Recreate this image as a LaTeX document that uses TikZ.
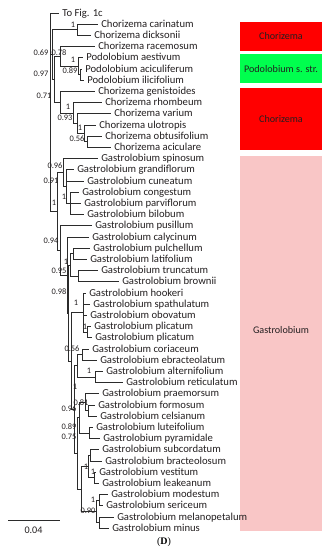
\documentclass[tikz,border=0pt]{standalone}
\usepackage{fontspec}
\setmainfont{Carlito}
\newfontfamily\panelfont{Liberation Serif}
\usetikzlibrary{positioning, calc}
\definecolor{chor}{HTML}{FF0000}
\definecolor{podo}{HTML}{00FF4E}
\definecolor{gastro}{HTML}{F9C6C6}
\definecolor{branch}{HTML}{2b2b2b}
\definecolor{ink}{HTML}{231f20}

\tikzset{
  tip/.style={anchor=mid west, inner xsep=2.25pt, inner ysep=0pt, text=ink, font=\fontsize{8}{9}\selectfont},
  supp/.style={inner sep=0pt, text=ink, font=\fontsize{6.3}{7}\selectfont},
  boxlab/.style={inner sep=0pt, text=ink, font=\fontsize{7.6}{9}\selectfont},
  edge/.style={draw=branch, line width=0.5pt}
}

\begin{document}
\begin{tikzpicture}[x=0.75pt, y=-0.75pt]
  \useasboundingbox (0,0) rectangle (335,550);

  % Clade bars on the right
  \fill[chor] (240,22) rectangle (322,51);
  \fill[podo] (240,54.3) rectangle (322,83.3);
  \fill[chor] (240,88.3) rectangle (322,150);
  \fill[gastro] (240,155.7) rectangle (322,530.7);
  \node[boxlab] (bchor1) at (281,36.5) {Chorizema};
  \node[boxlab] (bpodo) at (281,69) {Podolobium s. str.};
  \node[boxlab] (bchor2) at (281,119) {Chorizema};
  \node[boxlab] (bgastro) at (281,330) {Gastrolobium};

  % Tips (index / branch end / name)
  \foreach \i/\xe/\lab in {
    1/59/To Fig. 1c, 2/98/Chorizema carinatum, 3/91/Chorizema dicksonii,
    4/95/Chorizema racemosum, 5/83/Podolobium aestivum, 6/82/Podolobium aciculiferum,
    7/84/Podolobium ilicifolium, 8/95/Chorizema genistoides, 9/102/Chorizema rhombeum,
    10/111/Chorizema varium, 11/96/Chorizema ulotropis, 12/102/Chorizema obtusifolium,
    13/111/Chorizema aciculare, 14/98/Gastrolobium spinosum, 15/74/Gastrolobium grandiflorum,
    16/84/Gastrolobium cuneatum, 17/79/Gastrolobium congestum, 18/81/Gastrolobium parviflorum,
    19/84/Gastrolobium bilobum, 20/92/Gastrolobium pusillum, 21/89/Gastrolobium calycinum,
    22/90/Gastrolobium pulchellum, 23/87/Gastrolobium latifolium, 24/98/Gastrolobium truncatum,
    25/119/Gastrolobium brownii, 26/86/Gastrolobium hookeri, 27/90/Gastrolobium spathulatum,
    28/87/Gastrolobium obovatum, 29/91/Gastrolobium plicatum, 30/92/Gastrolobium plicatum,
    31/89/Gastrolobium coriaceum, 32/97/Gastrolobium ebracteolatum, 33/103/Gastrolobium alternifolium,
    34/123/Gastrolobium reticulatum, 35/99/Gastrolobium praemorsum, 36/95/Gastrolobium formosum,
    37/97/Gastrolobium celsianum, 38/93/Gastrolobium luteifolium, 39/100/Gastrolobium pyramidale,
    40/99/Gastrolobium subcordatum, 41/102/Gastrolobium bracteolosum, 42/96/Gastrolobium vestitum,
    43/99/Gastrolobium leakeanum, 44/108/Gastrolobium modestum, 45/103/Gastrolobium sericeum,
    46/114/Gastrolobium melanopetalum, 47/109/Gastrolobium minus}
    \node[tip] (t\i) at (\xe,{13+11.2*(\i-1)}) {\lab};

  % Internal nodes
  \coordinate (r) at (50,112);
  \coordinate (a) at (52,54.55);
  \coordinate (cd) at (77.7,29.8);
  \coordinate (x) at (54.5,79.3);
  \coordinate (rp) at (60,56.4);
  \coordinate (po) at (78,66.2);
  \coordinate (ai) at (80,74.6);
  \coordinate (c) at (60,102.25);
  \coordinate (e) at (73,113.1);
  \coordinate (vu) at (77,123.6);
  \coordinate (uo) at (84,133.4);
  \coordinate (oa) at (87,141.8);
  \coordinate (g) at (57,211.5);
  \coordinate (n1) at (63,172.6);
  \coordinate (n2) at (66,186.6);
  \coordinate (cpb) at (70,203.4);
  \coordinate (s2) at (60,250.4);
  \coordinate (s3) at (67,275);
  \coordinate (s4) at (68.5,313.05);
  \coordinate (pltb) at (70,265);
  \coordinate (pl) at (73,253.8);
  \coordinate (tb) at (78,276.2);
  \coordinate (j) at (71.5,361.1);
  \coordinate (hk) at (83,312.6);
  \coordinate (pp) at (87,332.2);
  \coordinate (j2) at (74,409.55);
  \coordinate (cear) at (77,365.8);
  \coordinate (ce) at (82,354.6);
  \coordinate (ar) at (95,377);
  \coordinate (k2) at (77.5,453.3);
  \coordinate (k1) at (79,417.6);
  \coordinate (pfc) at (85,402.2);
  \coordinate (fc) at (88,410.6);
  \coordinate (lp) at (89,433);
  \coordinate (b2) at (81,489);
  \coordinate (sbvl) at (88,466.6);
  \coordinate (sb) at (90,455.4);
  \coordinate (vl) at (94,477.8);
  \coordinate (m) at (96,511.4);
  \coordinate (ms) at (99,500.2);
  \coordinate (mm) at (99,522.6);

  % Branches
  \foreach \p/\c in {r/t1.mid west, r/a, r/g,
    a/cd, a/x, cd/t2.mid west, cd/t3.mid west,
    x/rp, x/c, rp/t4.mid west, rp/po, po/t5.mid west, po/ai,
    ai/t6.mid west, ai/t7.mid west,
    c/t8.mid west, c/e, e/t9.mid west, e/vu, vu/t10.mid west, vu/uo,
    uo/t11.mid west, uo/oa, oa/t12.mid west, oa/t13.mid west,
    g/n1, g/s2, n1/t14.mid west, n1/n2,
    n2/t15.mid west, n2/t16.mid west, n2/cpb,
    cpb/t17.mid west, cpb/t18.mid west, cpb/t19.mid west,
    s2/t20.mid west, s2/s3, s3/t21.mid west, s3/s4,
    s4/pltb, s4/j, pltb/pl, pltb/tb,
    pl/t22.mid west, pl/t23.mid west, tb/t24.mid west, tb/t25.mid west,
    j/hk, j/j2, hk/t26.mid west, hk/t27.mid west, hk/t28.mid west, hk/pp,
    pp/t29.mid west, pp/t30.mid west,
    j2/cear, j2/k2, cear/ce, cear/ar,
    ce/t31.mid west, ce/t32.mid west, ar/t33.mid west, ar/t34.mid west,
    k2/k1, k2/b2, k1/pfc, k1/lp,
    pfc/t35.mid west, pfc/fc, fc/t36.mid west, fc/t37.mid west,
    lp/t38.mid west, lp/t39.mid west,
    b2/sbvl, b2/m, sbvl/sb, sbvl/vl,
    sb/t40.mid west, sb/t41.mid west, vl/t42.mid west, vl/t43.mid west,
    m/ms, m/mm, ms/t44.mid west, ms/t45.mid west, mm/t46.mid west, mm/t47.mid west}
    \draw[edge] (\p) |- (\c);

  % Support values
  \foreach \n/\xx/\yy/\v in {cd/73/25/1, a/41/53/0.69, rp/59/53/0.78, po/73/60/1,
    ai/70/71/0.89, x/41/74/0.97, c/44/96/0.71, e/68/107/1, vu/65/118/0.93,
    uo/80/128/1, oa/77/139/0.56, n1/55/166/0.96, n2/51/181/0.91, cpb/64/197/1,
    g/54/203/1, s2/51/241/0.94, pltb/66/262/1, s3/59/271/0.95, s4/59/292/0.98,
    hk/76/303/1, pp/85/327/1, ce/72/349/0.56, ar/89/371/1, j2/75/387/1,
    fc/81/403/0.81, k1/69/409/0.96, lp/69/427/0.89, k2/69/437/0.75,
    sbvl/86/467/1, vl/93/472/1, ms/93/500/1, m/88/511/0.90}
    \node[supp] (l\n) at (\xx,\yy) {\v};

  % Scale
  \coordinate (bar0) at (8,520);
  \coordinate (bar1) at (60,520);
  \draw[edge] (bar0) -- (bar1);
  \node[boxlab] (barlab) at (33.5,530) {0.04};

  \node[font=\panelfont\fontsize{7.5}{9}\selectfont, inner sep=0pt] (panel) at (164,542) {(\textbf{D})};
\end{tikzpicture}
\end{document}
